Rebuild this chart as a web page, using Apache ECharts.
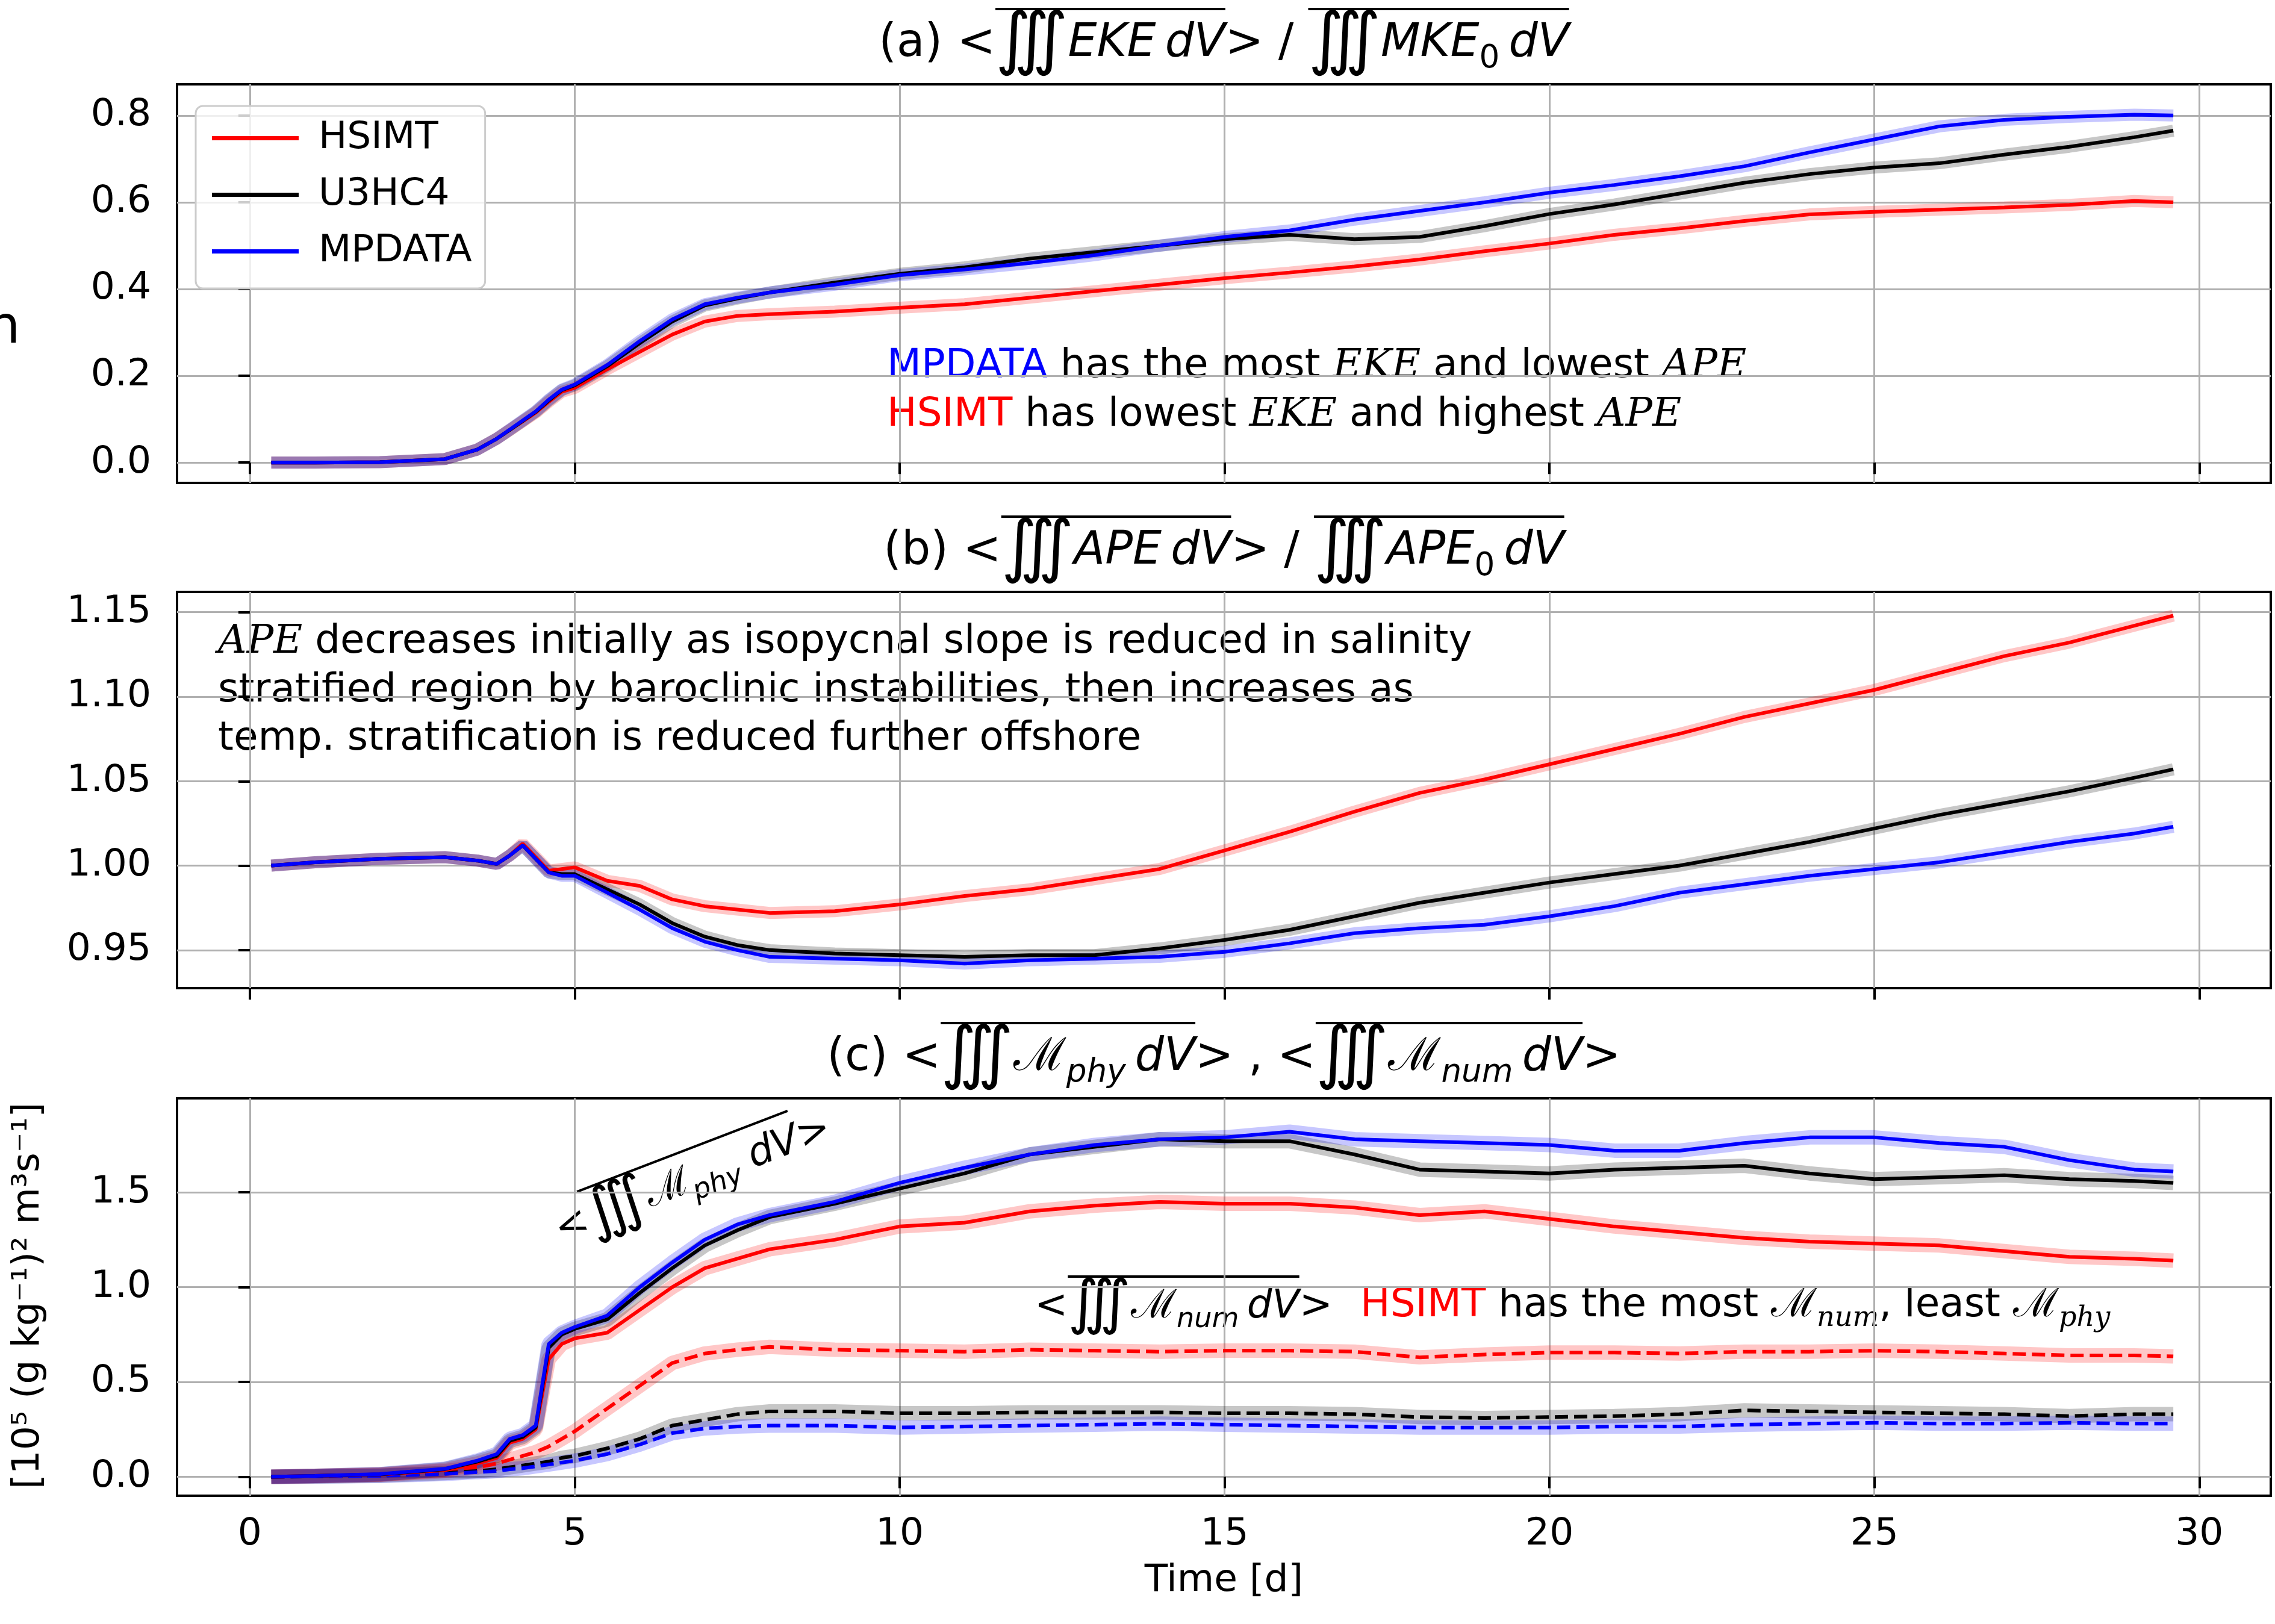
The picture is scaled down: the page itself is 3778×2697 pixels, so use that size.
<!DOCTYPE html>
<html>
<head>
<meta charset="utf-8">
<script src="https://cdn.jsdelivr.net/npm/echarts@6/dist/echarts.min.js"></script>
<style>
  html, body { margin: 0; padding: 0; background: #fff; }
  #chart { width: 3778px; height: 2697px; }
</style>
</head>
<body>
<div id="chart"></div>
<script>
// time axis (days), shared by every series
const days = [0.33, 1, 2, 3, 3.5, 3.8, 4.0, 4.2, 4.4, 4.6, 4.8, 5, 5.5, 6, 6.5, 7, 7.5, 8,
  9, 10, 11, 12, 13, 14, 15, 16, 17, 18, 19, 20, 21, 22, 23, 24, 25, 26, 27, 28, 29, 29.6];

// (a) EKE / MKE0
const ekeHsimt = [0, 0, 0.001, 0.008, 0.03, 0.055, 0.075, 0.095, 0.115, 0.14, 0.163, 0.172, 0.215, 0.255, 0.295, 0.325, 0.338, 0.342,
  0.348, 0.357, 0.365, 0.38, 0.395, 0.41, 0.425, 0.438, 0.452, 0.468, 0.487, 0.505, 0.525, 0.54, 0.557, 0.572, 0.578, 0.583, 0.588, 0.594, 0.603, 0.6];
const ekeU3hc4 = [0, 0, 0.001, 0.008, 0.03, 0.055, 0.075, 0.096, 0.117, 0.143, 0.167, 0.178, 0.222, 0.275, 0.325, 0.362, 0.378, 0.392,
  0.415, 0.435, 0.45, 0.47, 0.485, 0.5, 0.515, 0.525, 0.515, 0.52, 0.545, 0.573, 0.595, 0.62, 0.645, 0.665, 0.68, 0.69, 0.71, 0.728, 0.75, 0.765];
const ekeMpdata = [0, 0, 0.001, 0.008, 0.03, 0.055, 0.076, 0.097, 0.118, 0.145, 0.168, 0.18, 0.225, 0.28, 0.33, 0.365, 0.38, 0.392,
  0.41, 0.432, 0.445, 0.46, 0.478, 0.5, 0.52, 0.535, 0.56, 0.58, 0.6, 0.622, 0.64, 0.66, 0.683, 0.715, 0.745, 0.775, 0.79, 0.797, 0.802, 0.8];

// (b) APE / APE0
const apeHsimt = [1.0, 1.002, 1.004, 1.005, 1.003, 1.001, 1.006, 1.013, 1.005, 0.997, 0.998, 0.999, 0.991, 0.988, 0.98, 0.976, 0.974, 0.972,
  0.973, 0.977, 0.982, 0.986, 0.992, 0.998, 1.009, 1.02, 1.032, 1.043, 1.051, 1.06, 1.069, 1.078, 1.088, 1.096, 1.104, 1.114, 1.124, 1.132, 1.142, 1.148];
const apeU3hc4 = [1.0, 1.002, 1.004, 1.005, 1.003, 1.001, 1.006, 1.012, 1.004, 0.996, 0.995, 0.995, 0.986, 0.977, 0.966, 0.958, 0.953, 0.95,
  0.948, 0.947, 0.946, 0.947, 0.947, 0.951, 0.956, 0.962, 0.97, 0.978, 0.984, 0.99, 0.995, 1.0, 1.007, 1.014, 1.022, 1.03, 1.037, 1.044, 1.052, 1.057];
const apeMpdata = [1.0, 1.002, 1.004, 1.005, 1.003, 1.001, 1.006, 1.012, 1.004, 0.996, 0.994, 0.994, 0.984, 0.974, 0.963, 0.955, 0.95, 0.946,
  0.945, 0.944, 0.942, 0.944, 0.945, 0.946, 0.949, 0.954, 0.96, 0.963, 0.965, 0.97, 0.976, 0.984, 0.989, 0.994, 0.998, 1.002, 1.008, 1.014, 1.019, 1.023];

// (c) physical mixing (solid) and numerical mixing (dashed)
const phyHsimt = [0, 0.005, 0.012, 0.035, 0.07, 0.1, 0.18, 0.2, 0.25, 0.62, 0.7, 0.73, 0.76, 0.88, 1.0, 1.1, 1.15, 1.2,
  1.25, 1.32, 1.34, 1.4, 1.43, 1.45, 1.44, 1.44, 1.42, 1.38, 1.4, 1.36, 1.32, 1.29, 1.26, 1.24, 1.23, 1.22, 1.19, 1.16, 1.15, 1.14];
const phyU3hc4 = [0, 0.005, 0.013, 0.04, 0.08, 0.11, 0.19, 0.21, 0.26, 0.68, 0.75, 0.78, 0.83, 0.97, 1.1, 1.22, 1.3, 1.37,
  1.44, 1.52, 1.6, 1.7, 1.74, 1.78, 1.77, 1.77, 1.7, 1.62, 1.61, 1.6, 1.62, 1.63, 1.64, 1.6, 1.57, 1.58, 1.59, 1.57, 1.56, 1.55];
const phyMpdata = [0, 0.005, 0.014, 0.042, 0.085, 0.12, 0.2, 0.22, 0.27, 0.7, 0.76, 0.79, 0.85, 1.0, 1.13, 1.25, 1.33, 1.38,
  1.45, 1.55, 1.63, 1.7, 1.75, 1.78, 1.79, 1.82, 1.78, 1.77, 1.76, 1.75, 1.72, 1.72, 1.76, 1.79, 1.79, 1.76, 1.74, 1.67, 1.62, 1.61];
const numHsimt = [0, 0.003, 0.01, 0.03, 0.05, 0.07, 0.09, 0.11, 0.13, 0.16, 0.2, 0.24, 0.36, 0.48, 0.6, 0.65, 0.67, 0.685,
  0.67, 0.665, 0.66, 0.67, 0.665, 0.66, 0.665, 0.665, 0.66, 0.63, 0.645, 0.655, 0.655, 0.65, 0.66, 0.66, 0.665, 0.66, 0.65, 0.64, 0.64, 0.635];
const numU3hc4 = [0, 0.002, 0.006, 0.02, 0.03, 0.04, 0.05, 0.06, 0.07, 0.08, 0.1, 0.11, 0.15, 0.2, 0.27, 0.3, 0.33, 0.345,
  0.345, 0.335, 0.335, 0.34, 0.34, 0.34, 0.335, 0.335, 0.33, 0.315, 0.31, 0.315, 0.32, 0.33, 0.35, 0.345, 0.34, 0.335, 0.33, 0.32, 0.33, 0.33];
const numMpdata = [0, 0.002, 0.005, 0.015, 0.025, 0.03, 0.04, 0.045, 0.055, 0.065, 0.075, 0.085, 0.12, 0.17, 0.23, 0.255, 0.265, 0.27,
  0.27, 0.26, 0.265, 0.27, 0.275, 0.28, 0.275, 0.27, 0.265, 0.26, 0.26, 0.26, 0.265, 0.265, 0.275, 0.28, 0.285, 0.28, 0.28, 0.285, 0.28, 0.28];

// ticks
const xTicks = [0, 5, 10, 15, 20, 25, 30];
const yTicksA = [0, 0.2, 0.4, 0.6, 0.8];
const yTicksB = [0.95, 1.0, 1.05, 1.1, 1.15];
const yTicksC = [0, 0.5, 1.0, 1.5];

const schemes = ['HSIMT', 'U3HC4', 'MPDATA'];
const colors = { HSIMT: '#ff0000', U3HC4: '#000000', MPDATA: '#0000ff' };

const FONT = 'DejaVu Sans';
const M = 63;   // ticks, legend, axis names
const N = 66;   // annotations
const T = 76;   // titles
const LEFT = 294, WIDTH = 3477, CX = LEFT + WIDTH / 2;

const panels = [
  { top: 140, height: 662, min: -0.047, max: 0.872, ticks: yTicksA, dec: 1 },
  { top: 983, height: 658, min: 0.9275, max: 1.162, ticks: yTicksB, dec: 2 },
  { top: 1824, height: 660, min: -0.10, max: 1.996, ticks: yTicksC, dec: 1 }
];

// series: main line + wide translucent band underneath
const series = [];
const addLine = (gi, name, vals, dashed) => {
  const data = days.map((d, i) => [d, vals[i]]);
  series.push({
    type: 'line', name: name, xAxisIndex: gi, yAxisIndex: gi, data: data,
    symbol: 'none', showSymbol: false, z: 3, silent: true,
    lineStyle: { color: colors[name], width: 6, type: dashed ? [22, 10] : 'solid' },
    itemStyle: { color: colors[name] }
  });
  series.push({
    type: 'line', name: name + ' band', xAxisIndex: gi, yAxisIndex: gi, data: data,
    symbol: 'none', showSymbol: false, z: 2, silent: true,
    lineStyle: { color: colors[name], width: gi === 2 ? 24 : 20, opacity: 0.22 }
  });
};
[ekeHsimt, ekeU3hc4, ekeMpdata].forEach((v, i) => addLine(0, schemes[i], v, false));
[apeHsimt, apeU3hc4, apeMpdata].forEach((v, i) => addLine(1, schemes[i], v, false));
[numHsimt, numU3hc4, numMpdata].forEach((v, i) => addLine(2, schemes[i], v, true));
[phyHsimt, phyU3hc4, phyMpdata].forEach((v, i) => addLine(2, schemes[i], v, false));

// lay out a row of text pieces (mathtext-like) with optional overlines
const mctx = document.createElement('canvas').getContext('2d');
function mathRow(parts, x, base, size, align) {
  let cur = 0;
  const laid = parts.map(p => {
    const fs = size * (p.k || 1);
    const fam = p.serif ? 'DejaVu Serif' : FONT;
    const st = p.it ? 'italic' : 'normal';
    mctx.font = st + ' ' + fs + 'px "' + fam + '"';
    const w = mctx.measureText(p.t).width;
    const o = { p, fs, fam, st, x: cur, w };
    cur += w;
    return o;
  });
  const x0 = align === 'center' ? x - cur / 2 : x;
  const els = laid.map(o => ({
    type: 'text', silent: true,
    x: x0 + o.x, y: base + (o.p.dy || 0) * size - 0.35 * o.fs,
    style: {
      text: o.p.t, fontSize: o.fs, fontFamily: o.fam, fontStyle: o.st,
      fill: o.p.c || '#000', align: 'left', verticalAlign: 'middle'
    }
  }));
  const bars = {};
  laid.forEach(o => {
    if (!o.p.ov) return;
    const b = bars[o.p.ov] || (bars[o.p.ov] = [Infinity, -Infinity]);
    b[0] = Math.min(b[0], o.x);
    b[1] = Math.max(b[1], o.x + o.w);
  });
  Object.keys(bars).forEach(k => {
    const b = bars[k], yy = base - 1.12 * size;
    els.push({ type: 'line', silent: true,
      shape: { x1: x0 + b[0], y1: yy, x2: x0 + b[1], y2: yy },
      style: { stroke: '#000', lineWidth: 4 } });
  });
  return els;
}

const INT = { t: '\u222D', k: 1.5, dy: 0.16 };
const sub = (t, ov, serif) => ({ t: t, k: 0.7, dy: 0.22, it: true, ov: ov, serif: serif });
const calM = ov => ({ t: '\u2133', serif: true, ov: ov });

const titleA = [
  { t: '(a) <' }, Object.assign({ ov: 1 }, INT), { t: 'EKE', it: true, ov: 1 }, { t: '\u2009dV', it: true, ov: 1 },
  { t: '> / ' }, Object.assign({ ov: 2 }, INT), { t: 'MKE', it: true, ov: 2 }, { t: '0', k: 0.7, dy: 0.22, ov: 2 }, { t: '\u2009dV', it: true, ov: 2 }
];
const titleB = [
  { t: '(b) <' }, Object.assign({ ov: 1 }, INT), { t: 'APE', it: true, ov: 1 }, { t: '\u2009dV', it: true, ov: 1 },
  { t: '> / ' }, Object.assign({ ov: 2 }, INT), { t: 'APE', it: true, ov: 2 }, { t: '0', k: 0.7, dy: 0.22, ov: 2 }, { t: '\u2009dV', it: true, ov: 2 }
];
const titleC = [
  { t: '(c) <' }, Object.assign({ ov: 1 }, INT), calM(1), sub('phy', 1), { t: '\u2009dV', it: true, ov: 1 },
  { t: '> , <' }, Object.assign({ ov: 2 }, INT), calM(2), sub('num', 2), { t: '\u2009dV', it: true, ov: 2 }, { t: '>' }
];

const noteA1 = [{ t: 'MPDATA', c: '#0000ff' }, { t: ' has the most ' }, { t: 'EKE', it: true, serif: true },
  { t: ' and lowest ' }, { t: 'APE', it: true, serif: true }];
const noteA2 = [{ t: 'HSIMT', c: '#ff0000' }, { t: ' has lowest ' }, { t: 'EKE', it: true, serif: true },
  { t: ' and highest ' }, { t: 'APE', it: true, serif: true }];
const noteB = [
  [{ t: 'APE', it: true, serif: true }, { t: ' decreases initially as isopycnal slope is reduced in salinity' }],
  [{ t: 'stratified region by baroclinic instabilities, then increases as' }],
  [{ t: 'temp. stratification is reduced further offshore' }]
];
const notePhy = [{ t: '<' }, Object.assign({ ov: 1 }, INT), calM(1), sub('phy', 1), { t: ' dV', it: true, ov: 1 }, { t: '>' }];
const noteNum = [{ t: '<' }, Object.assign({ ov: 1 }, INT), calM(1), sub('num', 1), { t: '\u2009dV', it: true, ov: 1 }, { t: '>' }];
const noteC = [{ t: 'HSIMT', c: '#ff0000' }, { t: ' has the most ' }, calM(0), sub('num', 0, true),
  { t: ', least ' }, calM(0), sub('phy', 0, true)];

const graphics = [].concat(
  mathRow(titleA, CX, 100, T, 'center'),
  mathRow(titleB, CX, 943, T, 'center'),
  mathRow(titleC, CX, 1784, T, 'center'),
  mathRow(noteA1, 1473, 632, N, 'left'),
  mathRow(noteA2, 1473, 713, N, 'left'),
  mathRow(noteB[0], 362, 1090, N, 'left'),
  mathRow(noteB[1], 362, 1171, N, 'left'),
  mathRow(noteB[2], 362, 1251, N, 'left'),
  mathRow(noteNum, 1718, 2194, N, 'left'),
  mathRow(noteC, 2259, 2192, N, 'left'),
  [
    { type: 'group', x: 933, y: 2068, rotation: 21 * Math.PI / 180, children: mathRow(notePhy, 0, 0, N, 'left') },
    { type: 'text', silent: true, x: CX, y: 2626,
      style: { text: 'Time [d]', fontSize: M, fontFamily: FONT, fill: '#000', align: 'center', verticalAlign: 'middle' } },
    { type: 'text', silent: true, x: 48, y: 2152, rotation: Math.PI / 2,
      style: { text: '[10\u2075 (g kg\u207B\u00B9)\u00B2 m\u00B3s\u207B\u00B9]', fontSize: M, fontFamily: FONT, fill: '#000', align: 'center', verticalAlign: 'middle' } },
    { type: 'text', silent: true, x: -21, y: 577 - 0.35 * 86,
      style: { text: 'n', fontSize: 86, fontFamily: FONT, fill: '#000', align: 'left', verticalAlign: 'middle' } }
  ]
);

const chart = echarts.init(document.getElementById('chart'), null, { renderer: 'canvas' });
chart.setOption({
  animation: false,
  backgroundColor: '#ffffff',
  grid: panels.map(p => ({
    left: LEFT, width: WIDTH, top: p.top, height: p.height,
    show: true, borderColor: '#000', borderWidth: 4, backgroundColor: 'transparent'
  })),
  xAxis: panels.map((p, i) => ({
    type: 'value', gridIndex: i, min: -1.12, max: 31.1,
    axisLine: { show: false },
    axisTick: { show: true, inside: false, length: 19, customValues: xTicks, lineStyle: { color: '#000', width: 4 } },
    axisLabel: { show: i === 2, customValues: xTicks, margin: 33, fontSize: M, fontFamily: FONT, color: '#000' },
    splitLine: { show: true, lineStyle: { color: '#b0b0b0', width: 3 } }
  })),
  yAxis: panels.map((p, i) => ({
    type: 'value', gridIndex: i, min: p.min, max: p.max,
    axisLine: { show: false },
    axisTick: { show: true, inside: false, length: 19, customValues: p.ticks, lineStyle: { color: '#000', width: 4 } },
    axisLabel: { customValues: p.ticks, margin: 43, fontSize: M, fontFamily: FONT, color: '#000',
      formatter: v => Number(v).toFixed(p.dec) },
    splitLine: { show: true, lineStyle: { color: '#b0b0b0', width: 3 } }
  })),
  legend: {
    data: schemes, orient: 'vertical', left: 325, top: 176, icon: 'rect',
    selectedMode: false, itemWidth: 144, itemHeight: 7, itemGap: 31,
    padding: [22, 22, 30, 27],
    backgroundColor: 'rgba(255,255,255,0.8)', borderColor: '#cccccc', borderWidth: 3, borderRadius: 12,
    textStyle: { fontSize: M, fontFamily: FONT, color: '#000', lineHeight: 62, padding: [0, 0, 0, 28] }
  },
  series: series,
  graphic: graphics
});
</script>
</body>
</html>
